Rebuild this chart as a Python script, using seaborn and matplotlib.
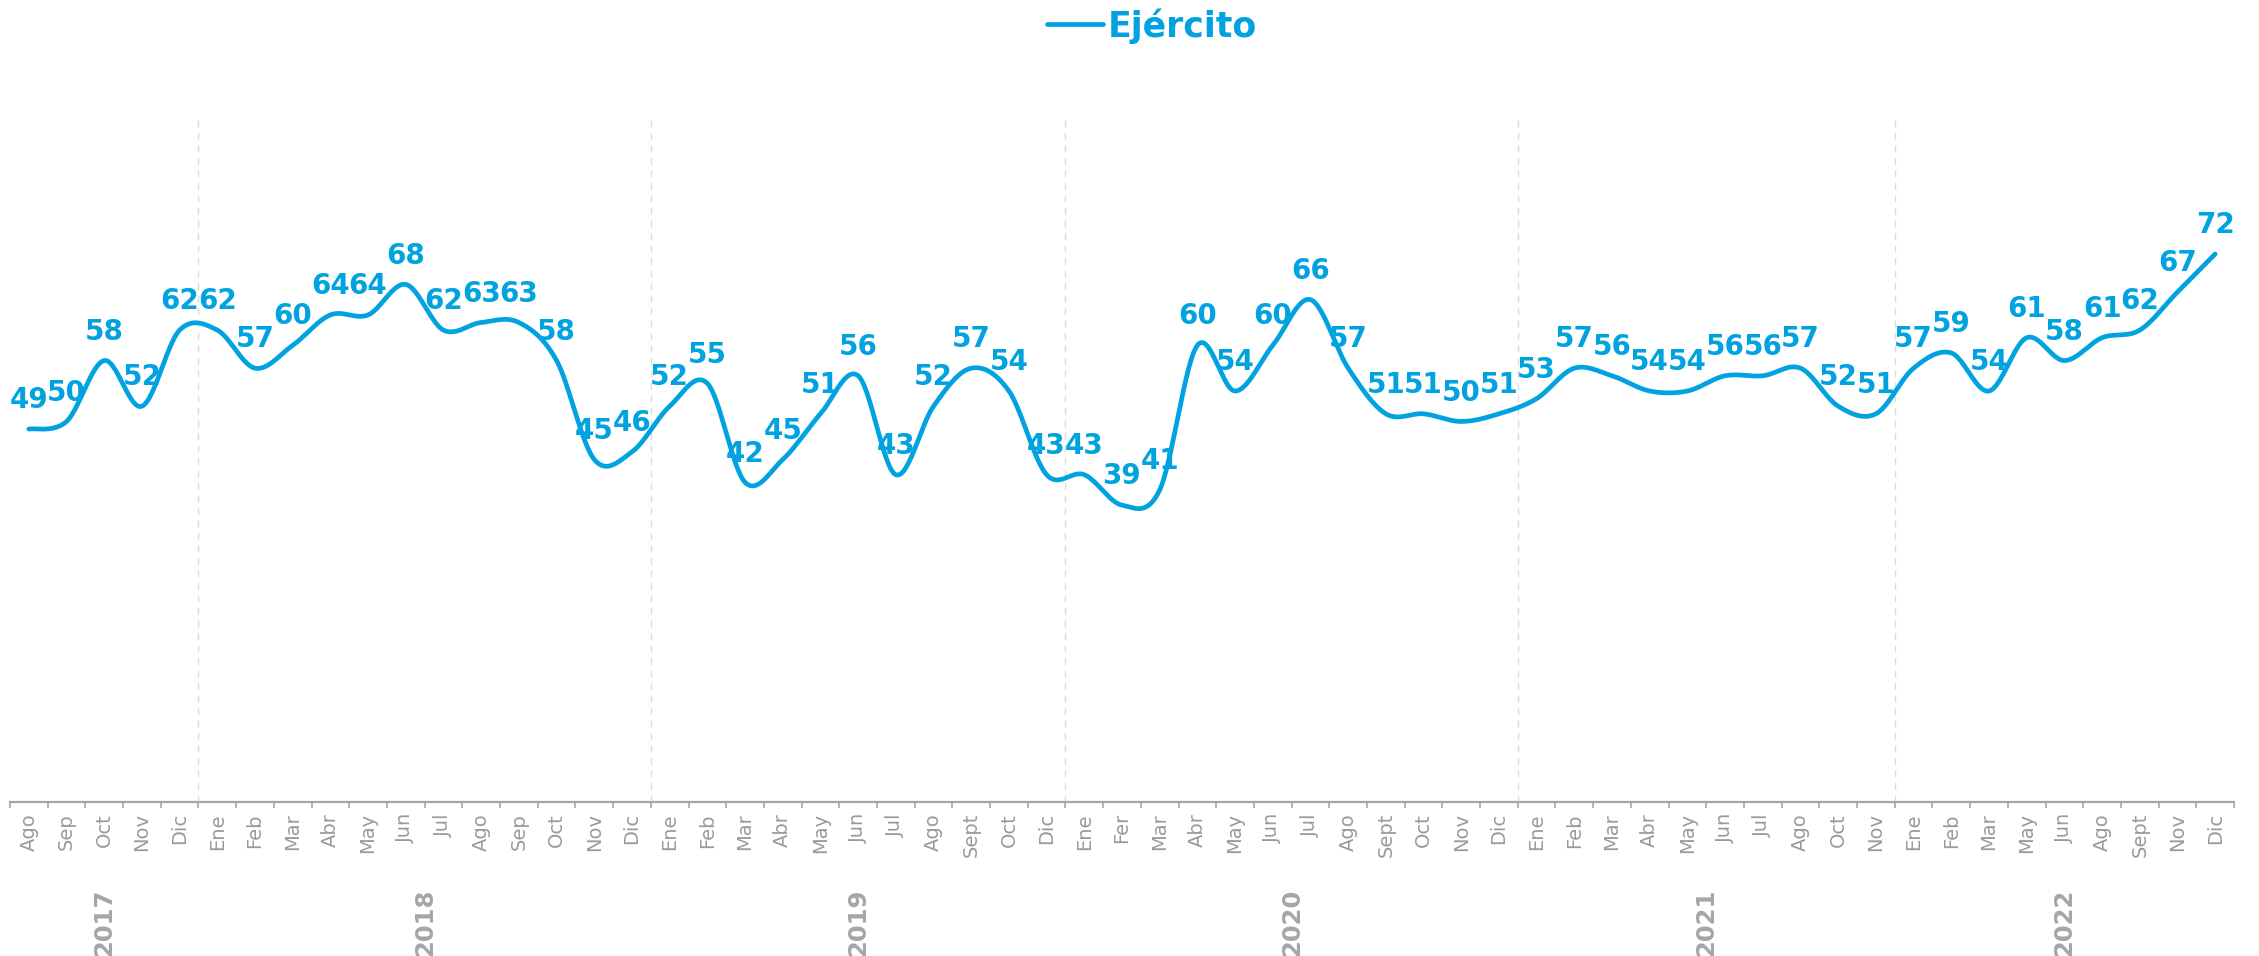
import numpy as np
import pandas as pd
import matplotlib
matplotlib.use('Agg')
import matplotlib.pyplot as plt
from matplotlib.ticker import FixedLocator
import seaborn as sns

# Datos: índice mensual "Ejército"
anios = ['2017', '2018', '2019', '2020', '2021', '2022']
meses = [
    ['Ago', 'Sep', 'Oct', 'Nov', 'Dic'],
    ['Ene', 'Feb', 'Mar', 'Abr', 'May', 'Jun', 'Jul', 'Ago', 'Sep', 'Oct', 'Nov', 'Dic'],
    ['Ene', 'Feb', 'Mar', 'Abr', 'May', 'Jun', 'Jul', 'Ago', 'Sept', 'Oct', 'Dic'],
    ['Ene', 'Fer', 'Mar', 'Abr', 'May', 'Jun', 'Jul', 'Ago', 'Sept', 'Oct', 'Nov', 'Dic'],
    ['Ene', 'Feb', 'Mar', 'Abr', 'May', 'Jun', 'Jul', 'Ago', 'Oct', 'Nov'],
    ['Ene', 'Feb', 'Mar', 'May', 'Jun', 'Ago', 'Sept', 'Nov', 'Dic'],
]
valores = [
    49, 50, 58, 52, 62,
    62, 57, 60, 64, 64, 68, 62, 63, 63, 58, 45, 46,
    52, 55, 42, 45, 51, 56, 43, 52, 57, 54, 43,
    43, 39, 41, 60, 54, 60, 66, 57, 51, 51, 50, 51,
    53, 57, 56, 54, 54, 56, 56, 57, 52, 51,
    57, 59, 54, 61, 58, 61, 62, 67, 72,
]

AZUL = '#00A3E0'
GRIS = '#A6A6A6'

etiquetas = [m for grupo in meses for m in grupo]
anio_col = [a for a, grupo in zip(anios, meses) for _ in grupo]
df = pd.DataFrame({'mes': etiquetas, 'anio': anio_col, 'valor': valores})
df['pos'] = np.arange(len(df))


def suavizar(x, y, n=30):
    # curva suavizada tipo Excel (Catmull-Rom -> Bezier)
    px = np.concatenate([[x[0]], x, [x[-1]]]).astype(float)
    py = np.concatenate([[y[0]], y, [y[-1]]]).astype(float)
    xs, ys = [], []
    t = np.linspace(0, 1, n, endpoint=False)
    for i in range(1, len(px) - 2):
        p0x, p0y = px[i], py[i]
        p3x, p3y = px[i + 1], py[i + 1]
        c1x = p0x + (px[i + 1] - px[i - 1]) / 6
        c1y = p0y + (py[i + 1] - py[i - 1]) / 6
        c2x = p3x - (px[i + 2] - px[i]) / 6
        c2y = p3y - (py[i + 2] - py[i]) / 6
        b = [(1 - t) ** 3, 3 * (1 - t) ** 2 * t, 3 * (1 - t) * t ** 2, t ** 3]
        xs.append(b[0] * p0x + b[1] * c1x + b[2] * c2x + b[3] * p3x)
        ys.append(b[0] * p0y + b[1] * c1y + b[2] * c2y + b[3] * p3y)
    xs.append([px[-2]])
    ys.append([py[-2]])
    return np.concatenate(xs), np.concatenate(ys)


sns.set_theme(style='white')
plt.rcParams['font.family'] = ['DejaVu Sans']

fig = plt.figure(figsize=(22.59, 9.56), dpi=100)
ax = fig.add_axes([10 / 2259, 154 / 956, 2224 / 2259, 685 / 956])

sx, sy = suavizar(df['pos'].values, df['valor'].values)
curva = pd.DataFrame({'x': sx, 'y': sy})
sns.lineplot(data=curva, x='x', y='y', sort=False, color=AZUL, lw=3.4,
             solid_capstyle='round', label='Ejército', ax=ax)

for p, v in zip(df['pos'], df['valor']):
    ax.annotate(str(v), (p, v), xytext=(0, 15), textcoords='offset points',
                ha='center', va='baseline', fontsize=20, fontweight='bold',
                color=AZUL)

ax.set_xlim(-0.5, len(df) - 0.5)
ax.set_ylim(0, 90)

# separadores de año
limites = np.cumsum([len(g) for g in meses])
for b in limites[:-1]:
    ax.axvline(b - 0.5, color='#DCDCDC', lw=1, ls=(0, (5, 4)), zorder=0)

ax.xaxis.set_major_locator(FixedLocator(df['pos'].values))
ax.xaxis.set_minor_locator(FixedLocator(np.arange(-0.5, len(df), 1)))
ax.set_xticklabels(df['mes'], rotation=90, fontsize=14, color='#9A9A9A')
ax.tick_params(axis='x', which='major', length=0, pad=8)
ax.tick_params(axis='x', which='minor', length=4, width=1.2, color=GRIS,
               direction='out', bottom=True)
ax.set_yticks([])
ax.set_xlabel('')
ax.set_ylabel('')

for s in ['top', 'right', 'left']:
    ax.spines[s].set_visible(False)
ax.spines['bottom'].set_color(GRIS)
ax.spines['bottom'].set_linewidth(1.6)

# etiquetas de año
inicio = np.concatenate([[0], limites[:-1]])
for a, i0, i1 in zip(anios, inicio, limites):
    ax.text((i0 + i1 - 1) / 2, -0.175, a, transform=ax.get_xaxis_transform(),
            rotation=90, ha='center', va='center', fontsize=17.5,
            fontweight='bold', color=GRIS)

leg = ax.legend(loc='center', bbox_to_anchor=(0.51, 0.973),
                bbox_transform=fig.transFigure, frameon=False,
                handlelength=1.6, handletextpad=0.15,
                prop={'size': 25, 'weight': 'bold'})
for t in leg.get_texts():
    t.set_color(AZUL)

fig.savefig('out.png', dpi=100)
